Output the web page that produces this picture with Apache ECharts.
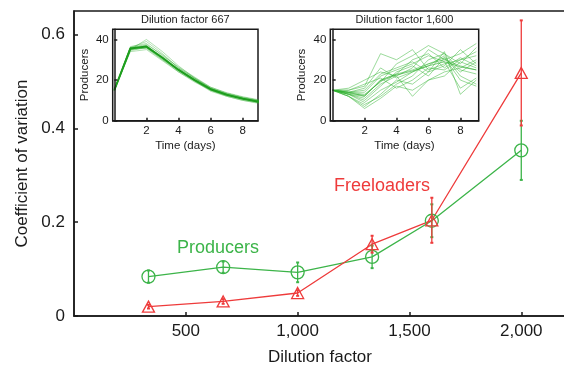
<!DOCTYPE html>
<html><head><meta charset="utf-8">
<script src="https://cdn.jsdelivr.net/npm/echarts@6/dist/echarts.min.js"></script>
<style>html,body{margin:0;padding:0;background:#fff}#c{width:564px;height:368px}</style>
</head><body><div id="c"></div>
<script>
// ---- data ----
const dilution = [333, 667, 1000, 1333, 1600, 2000];
const producersCV = [0.084, 0.104, 0.093, 0.126, 0.203, 0.353];
const producersErr = [0.013, 0.012, 0.021, 0.024, 0.035, 0.063];
const freeloadersCV = [0.020, 0.031, 0.049, 0.153, 0.204, 0.518];
const freeloadersErr = [0.004, 0.005, 0.006, 0.018, 0.048, 0.112];
const xTicks = [500, 1000, 1500, 2000];
const yTicks = [0, 0.2, 0.4, 0.6];

const days = [0, 1, 2, 3, 4, 5, 6, 7, 8, 9];
const insetTicksX = [2, 4, 6, 8];
const insetTicksY = [0, 20, 40];
// Dilution factor 667 replicate trajectories
const runs667 = [
  [15, 36, 37, 31, 25, 20, 15.5, 13, 11, 9.5],
  [15, 35, 36, 30, 24, 19, 15, 12.5, 10.5, 9],
  [15, 36, 39, 33, 26, 21, 16, 13.5, 11.5, 10],
  [15, 35.5, 36.5, 31.5, 25.5, 20.5, 15.5, 13, 11, 9.5],
  [15, 34, 35, 29.5, 24, 19.5, 14.5, 12, 10, 8.5],
  [15, 36.5, 38, 32, 26.5, 21.5, 16.5, 13.5, 11.5, 10],
  [15, 35, 37, 30.5, 24.5, 20, 15, 12.5, 11, 9],
  [15, 36, 35.5, 30, 25, 20.5, 16, 13, 11, 9.5],
  [15, 35, 40, 34, 27, 21, 16, 13, 11, 9.8],
  [15, 34.5, 36, 31, 25, 19.5, 15, 12, 10, 8.8],
  [15, 36, 37.5, 32.5, 26, 21, 16.5, 13.8, 11.8, 10.3],
  [15, 35, 36, 30.5, 25.5, 20, 15.8, 12.8, 10.8, 9.2]
];
const mean667 = [15, 35.5, 36.5, 31, 25, 20, 15.5, 12.8, 10.8, 9.3];
// Dilution factor 1,600 replicate trajectories
const runs1600 = [
  [15, 14, 12, 20, 23, 25, 28, 30, 27, 25],
  [15, 13, 9, 15, 19, 24, 27, 32, 22, 18],
  [15, 15, 17, 33, 30, 35, 25, 28, 30, 32],
  [15, 12, 8, 12, 18, 22, 30, 33, 28, 36],
  [15, 14, 14, 22, 25, 28, 32, 29, 16, 21],
  [15, 13, 11, 18, 22, 12, 20, 24, 26, 30],
  [15, 16, 20, 24, 22, 26, 35, 30, 33, 38],
  [15, 12, 7, 13, 20, 18, 24, 27, 35, 28],
  [15, 14, 13, 19, 28, 32, 37, 33, 25, 23],
  [15, 13, 10, 17, 24, 27, 22, 31, 20, 17],
  [15, 15, 18, 21, 16, 20, 26, 25, 30, 34],
  [15, 12, 6, 11, 17, 15, 20, 22, 29, 26],
  [15, 14, 15, 23, 26, 29, 24, 34, 13, 20],
  [15, 13, 12, 20, 23, 30, 33, 26, 31, 27],
  [15, 14, 16, 26, 21, 24, 28, 31, 24, 29]
];
const mean1600 = [15, 13.5, 12.5, 19.5, 22.5, 24.5, 27, 29, 26.5, 25];

// ---- styles ----
const FONT = 'Liberation Sans, Arial, Helvetica, sans-serif';
const GREEN = '#3cb449';
const RED = '#ee3b3b';
const INK = '#1a1a1a';

function errData(xs, ys, es) {
  return xs.map((x, i) => [x, ys[i], ys[i] - es[i], ys[i] + es[i]]);
}
function errRenderer(color) {
  return function (params, api) {
    const lo = api.coord([api.value(0), api.value(2)]);
    const hi = api.coord([api.value(0), api.value(3)]);
    const c = 1.5;
    const st = { stroke: color, lineWidth: 1.3 };
    return { type: 'group', children: [
      { type: 'line', shape: { x1: lo[0], y1: lo[1], x2: hi[0], y2: hi[1] }, style: st },
      { type: 'line', shape: { x1: lo[0] - c, y1: lo[1], x2: lo[0] + c, y2: lo[1] }, style: { stroke: color, lineWidth: 2 } },
      { type: 'line', shape: { x1: hi[0] - c, y1: hi[1], x2: hi[0] + c, y2: hi[1] }, style: { stroke: color, lineWidth: 2 } }
    ]};
  };
}

function insetX(idx, min, max) {
  return {
    type: 'value', gridIndex: idx, min: min, max: max, z: 20,
    name: 'Time (days)', nameLocation: 'middle', nameGap: 19,
    nameTextStyle: { fontFamily: FONT, fontSize: 11.5, color: INK },
    axisLine: { show: true, lineStyle: { color: INK, width: 1.5 } },
    axisTick: { show: true, inside: true, length: 3, customValues: insetTicksX, lineStyle: { color: INK, width: 1.5 } },
    axisLabel: { customValues: insetTicksX, fontFamily: FONT, fontSize: 11.5, color: INK, margin: 4 },
    splitLine: { show: false }
  };
}
function insetY(idx) {
  return {
    type: 'value', gridIndex: idx, min: 0, max: 45, z: 20,
    name: 'Producers', nameLocation: 'middle', nameGap: 22,
    nameTextStyle: { fontFamily: FONT, fontSize: 11.5, color: INK },
    axisLine: { show: true, lineStyle: { color: INK, width: 1.5 } },
    axisTick: { show: true, inside: true, length: 3, customValues: insetTicksY, lineStyle: { color: INK, width: 1.5 } },
    axisLabel: { customValues: insetTicksY, fontFamily: FONT, fontSize: 11.5, color: INK, margin: 4 },
    splitLine: { show: false }
  };
}
function runSeries(runs, idx, color, width) {
  return runs.map(r => ({
    type: 'line', xAxisIndex: idx, yAxisIndex: idx, showSymbol: false, symbol: 'none',
    data: days.map((d, i) => [d, r[i]]), silent: true, animation: false,
    lineStyle: { color: color, width: width }, z: 15
  }));
}

const option = {
  backgroundColor: '#fff',
  animation: false,
  grid: [
    { left: 74, top: 11, right: -2, bottom: 52, show: true, borderColor: INK, borderWidth: 1.5, backgroundColor: '#fff', z: 0, outerBoundsMode: 'none', containLabel: false },
    { left: 112.7, top: 29.3, width: 145.3, height: 91.4, show: true, borderColor: INK, borderWidth: 1.5, backgroundColor: '#fff', z: 1, outerBoundsMode: 'none', containLabel: false },
    { left: 330.3, top: 29.3, width: 148.4, height: 91.4, show: true, borderColor: INK, borderWidth: 1.5, backgroundColor: '#fff', z: 1, outerBoundsMode: 'none', containLabel: false }
  ],
  xAxis: [
    {
      type: 'value', gridIndex: 0, min: 0, max: 2200,
      name: 'Dilution factor', nameLocation: 'middle', nameGap: 33,
      nameTextStyle: { fontFamily: FONT, fontSize: 17, color: INK },
      axisLine: { show: true, lineStyle: { color: INK, width: 1.5 } },
      axisTick: { show: true, inside: true, length: 4, customValues: xTicks, lineStyle: { color: INK, width: 1.5 } },
      axisLabel: { customValues: xTicks, fontFamily: FONT, fontSize: 17, color: INK, margin: 7,
        formatter: v => v.toLocaleString('en-US') },
      splitLine: { show: false }
    },
    insetX(1, -0.1, 8.95),
    insetX(2, -0.15, 9.15)
  ],
  yAxis: [
    {
      type: 'value', gridIndex: 0, min: 0, max: 0.65,
      name: 'Coefficient of variation', nameLocation: 'middle', nameGap: 42,
      nameTextStyle: { fontFamily: FONT, fontSize: 17, color: INK },
      axisLine: { show: true, lineStyle: { color: INK, width: 1.5 } },
      axisTick: { show: true, inside: true, length: 4, customValues: yTicks, lineStyle: { color: INK, width: 1.5 } },
      axisLabel: { customValues: yTicks, fontFamily: FONT, fontSize: 17, color: INK, margin: 9,
        formatter: v => v === 0 ? '0' : v.toFixed(1) },
      splitLine: { show: false }
    },
    insetY(1),
    insetY(2)
  ],
  graphic: [
    { type: 'text', x: 185.3, y: 20, style: { text: 'Dilution factor 667', fontFamily: FONT, fontSize: 11, fill: INK, align: 'center', verticalAlign: 'middle' }, z: 30 },
    { type: 'text', x: 404.5, y: 20, style: { text: 'Dilution factor 1,600', fontFamily: FONT, fontSize: 11, fill: INK, align: 'center', verticalAlign: 'middle' }, z: 30 },
    { type: 'text', x: 177, y: 248, style: { text: 'Producers', fontFamily: FONT, fontSize: 18, fill: GREEN, align: 'left', verticalAlign: 'middle' }, z: 30 },
    { type: 'text', x: 334, y: 186, style: { text: 'Freeloaders', fontFamily: FONT, fontSize: 18, fill: RED, align: 'left', verticalAlign: 'middle' }, z: 30 }
  ],
  series: [
    {
      type: 'line', xAxisIndex: 0, yAxisIndex: 0, name: 'Producers',
      data: dilution.map((x, i) => [x, producersCV[i]]),
      symbol: 'circle', symbolSize: 13, showSymbol: true,
      lineStyle: { color: GREEN, width: 1.3 },
      itemStyle: { color: 'rgba(255,255,255,0)', borderColor: GREEN, borderWidth: 1.3 }, z: 4
    },
    {
      type: 'line', xAxisIndex: 0, yAxisIndex: 0, name: 'Freeloaders',
      data: dilution.map((x, i) => [x, freeloadersCV[i]]),
      symbol: 'triangle', symbolSize: [12, 11], showSymbol: true,
      lineStyle: { color: RED, width: 1.3 },
      itemStyle: { color: 'rgba(255,255,255,0)', borderColor: RED, borderWidth: 1.3 }, z: 4
    },
    {
      type: 'custom', xAxisIndex: 0, yAxisIndex: 0, renderItem: errRenderer(GREEN),
      data: errData(dilution, producersCV, producersErr), encode: { x: 0, y: [1, 2, 3] }, z: 5
    },
    {
      type: 'custom', xAxisIndex: 0, yAxisIndex: 0, renderItem: errRenderer(RED),
      data: errData(dilution, freeloadersCV, freeloadersErr), encode: { x: 0, y: [1, 2, 3] }, z: 6
    },
    ...runSeries(runs667, 1, 'rgba(40,170,40,0.35)', 1),
    ...runSeries([mean667], 1, '#1e9e1e', 2),
    ...runSeries(runs1600, 2, 'rgba(50,180,50,0.55)', 0.9),
    ...runSeries([mean1600], 2, 'rgba(40,170,40,0.6)', 1)
  ]
};
echarts.init(document.getElementById('c'), null, { renderer: 'canvas' }).setOption(option);
</script></body></html>
